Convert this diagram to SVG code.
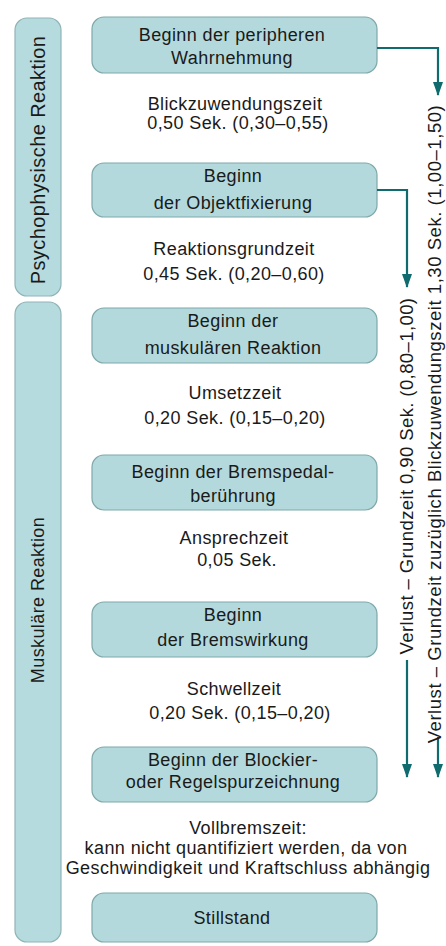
<svg xmlns="http://www.w3.org/2000/svg" width="446" height="946" viewBox="0 0 446 946">
<style>
.bg{fill:#ffffff}
.box{fill:#b4d9dc;stroke:#7ea8aa;stroke-width:1.2}
.bar{fill:#b6dbde;stroke:#8fb4b6;stroke-width:1.2}
text{font-family:"Liberation Sans",Arial,sans-serif;font-size:18px;fill:#1a1a1a;text-anchor:middle;letter-spacing:0.4px}
.conn{fill:none;stroke:#0f6b6d;stroke-width:2.2}
</style>
<defs>
<marker id="ah" markerWidth="14" markerHeight="10" refX="13" refY="5" orient="auto" markerUnits="userSpaceOnUse" viewBox="0 0 14 10">
<path d="M0,0 L14,5 L0,10 Z" fill="#0f6b6d"/>
</marker>
</defs>
<rect class="bg" x="0" y="0" width="446" height="946"/>

<g id="bar-psycho">
<rect class="bar" x="15" y="18" width="46" height="278" rx="12"/>
<text style="font-size:20px" transform="translate(45,160) rotate(-90)">Psychophysische Reaktion</text>
</g>
<g id="bar-muskel">
<rect class="bar" x="15" y="302" width="46" height="640" rx="12"/>
<text transform="translate(44,600) rotate(-90)">Muskuläre Reaktion</text>
</g>

<g id="n1"><rect class="box" x="92" y="17" width="285" height="56" rx="12"/>
<text x="232" y="41">Beginn der peripheren</text><text x="232" y="64">Wahrnehmung</text></g>
<g id="t1"><text x="235" y="110">Blickzuwendungszeit</text><text x="238" y="129">0,50 Sek. (0,30–0,55)</text></g>

<g id="n2"><rect class="box" x="92" y="163" width="285" height="54" rx="12"/>
<text x="233" y="182">Beginn</text><text x="233" y="209">der Objektfixierung</text></g>
<g id="t2"><text x="234" y="255">Reaktionsgrundzeit</text><text x="234" y="280">0,45 Sek. (0,20–0,60)</text></g>

<g id="n3"><rect class="box" x="92" y="308" width="285" height="55" rx="12"/>
<text x="233" y="327">Beginn der</text><text x="233" y="354">muskulären Reaktion</text></g>
<g id="t3"><text x="235" y="399">Umsetzzeit</text><text x="235" y="424">0,20 Sek. (0,15–0,20)</text></g>

<g id="n4"><rect class="box" x="92" y="455" width="285" height="55" rx="12"/>
<text x="233" y="478">Beginn der Bremspedal-</text><text x="233" y="502">berührung</text></g>
<g id="t4"><text x="234" y="544">Ansprechzeit</text><text x="237" y="566">0,05 Sek.</text></g>

<g id="n5"><rect class="box" x="92" y="602" width="285" height="55" rx="12"/>
<text x="233" y="621">Beginn</text><text x="233" y="646">der Bremswirkung</text></g>
<g id="t5"><text x="234" y="695">Schwellzeit</text><text x="240" y="719">0,20 Sek. (0,15–0,20)</text></g>

<g id="n6"><rect class="box" x="92" y="747" width="285" height="55" rx="12"/>
<text x="233" y="766">Beginn der Blockier-</text><text x="233" y="788">oder Regelspurzeichnung</text></g>
<g id="t6"><text x="248" y="834">Vollbremszeit:</text><text x="246" y="854">kann nicht quantifiziert werden, da von</text><text x="248" y="874">Geschwindigkeit und Kraftschluss abhängig</text></g>

<g id="n7"><rect class="box" x="92" y="893" width="285" height="49" rx="12"/>
<text x="232" y="924">Stillstand</text></g>

<g id="connectors">
<path class="conn" d="M377,48 H438 V95" marker-end="url(#ah)"/>
<path class="conn" d="M377,190 H407 V287" marker-end="url(#ah)"/>
<path class="conn" d="M407,660 V777" marker-end="url(#ah)"/>
<path class="conn" d="M438,737 V777" marker-end="url(#ah)"/>
<text style="font-size:18.5px" transform="translate(413,476) rotate(-90)">Verlust – Grundzeit  0,90 Sek. (0,80–1,00)</text>
<text style="font-size:18.5px;letter-spacing:0.55px" transform="translate(441,424) rotate(-90)">Verlust – Grundzeit zuzüglich Blickzuwendungszeit 1,30 Sek. (1,00–1,50)</text>
</g>
</svg>
